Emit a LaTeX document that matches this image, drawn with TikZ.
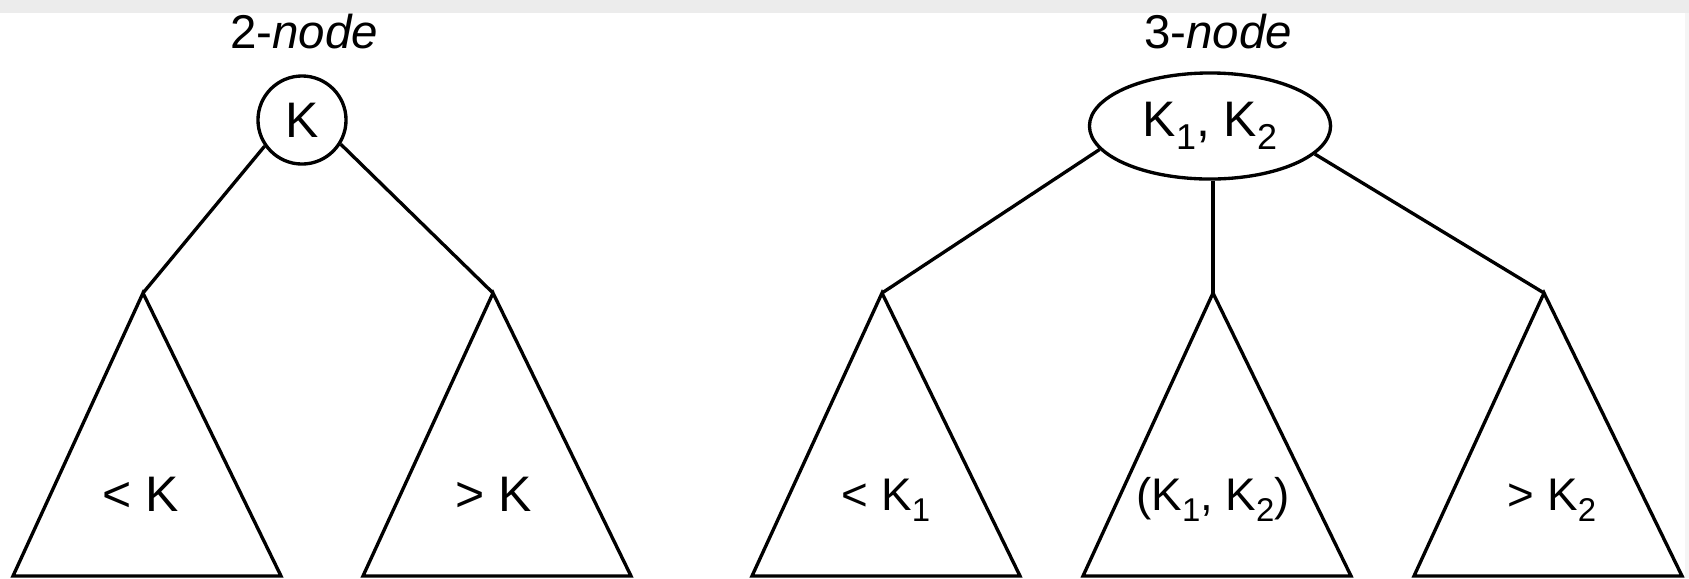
\documentclass[tikz,border=0pt]{standalone}
\usepackage{fontspec}
\setmainfont{Liberation Sans}
\usepackage{graphicx}
\usetikzlibrary{shapes.geometric}

\newcommand{\ksub}[1]{\raisebox{-0.26em}{\scalebox{0.72}{#1}}}

\begin{document}
\begin{tikzpicture}[x=0.01cm, y=-0.01cm, line width=0.95pt,
    key/.style={draw, inner sep=0pt, font=\fontsize{14.2}{17}\selectfont},
    nodetitle/.style={anchor=base, font=\fontsize{13.5}{16}\selectfont},
    rangelabel/.style={anchor=base, inner sep=0pt, font=\fontsize{14.2}{17}\selectfont},
    smallrangelabel/.style={anchor=base, inner sep=0pt, font=\fontsize{13}{15}\selectfont}]
    \useasboundingbox (0,0) rectangle (1689,578);
    % frame of the scan
    \fill[gray!15] (0,0) rectangle (1689,13);
    \fill[gray!8] (1685,13) rectangle (1689,578);

    % 2-node
    \node[nodetitle] (t2) at (304,48) {2-\textit{node}};
    \node[key, circle, minimum size=0.88cm] (k) at (302,120) {K};
    \coordinate (l) at (143,293);
    \coordinate (r) at (493,293);
    \draw (k.215) -- (l);
    \draw (k.328) -- (r);
    \foreach \a in {l,r}
        \draw[line join=miter] (\a) -- ++(-130,283) -- ++(268,0) -- cycle;
    \node[rangelabel] (lk) at (141,511) {< K};
    \node[rangelabel] (rk) at (494,511) {> K};

    % 3-node
    \node[nodetitle] (t3) at (1218,48) {3-\textit{node}};
    \node[key, ellipse, minimum width=2.41cm, minimum height=1.06cm] (kk) at (1210,126) {K\ksub{1}, K\ksub{2}};
    \coordinate (a) at (882,293);
    \coordinate (b) at (1213,293);
    \coordinate (c) at (1544,293);
    \draw (kk.192) -- (a);
    \draw (kk.south -| b) -- (b);
    \draw (kk.345) -- (c);
    \foreach \a in {a,b,c}
        \draw[line join=miter] (\a) -- ++(-130,283) -- ++(268,0) -- cycle;
    \node[smallrangelabel] (ak) at (886,510) {< K\ksub{1}};
    \node[smallrangelabel] (bk) at (1213,510) {(K\ksub{1}, K\ksub{2})};
    \node[smallrangelabel] (ck) at (1552,510) {> K\ksub{2}};
\end{tikzpicture}
\end{document}
